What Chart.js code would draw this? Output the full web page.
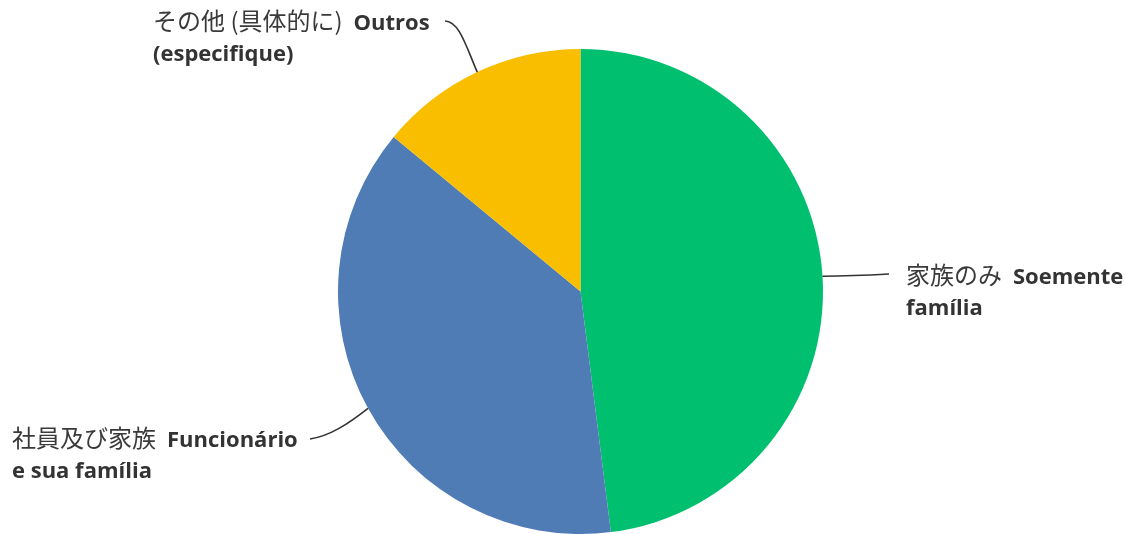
<!DOCTYPE html>
<html>
<head>
<meta charset="utf-8">
<script src="https://cdn.jsdelivr.net/npm/chart.js@4/dist/chart.umd.min.js"></script>
<style>
  html, body { margin: 0; padding: 0; background: #fff; }
  #wrap { width: 1126px; height: 534px; position: relative; }
</style>
</head>
<body>
<div id="wrap"><canvas id="c" width="1126" height="534"></canvas></div>
<script>
// ---- data ----
const categories = ["家族のみ Soemente família", "社員及び家族 Funcionário e sua família", "その他 (具体的に) Outros (especifique)"];
const labelsJa = ["家族のみ", "社員及び家族", "その他 (具体的に)"];
const labelsPtLine1 = ["Soemente", "Funcionário", "Outros"];
const labelsPtLine2 = ["família", "e sua família", "(especifique)"];
const values = [48, 38, 14];
const colors = ["#00BF6F", "#507CB6", "#F9BE00"];

// label layout (pixel positions for text and leader ends)
const labelLayout = [
  { tx: 906, by: 284, end: [889, 274], c1: [850, 276], c2: [870, 275] },
  { tx: 12,  by: 447, end: [310, 439], c1: [348, 424], c2: [330, 436] },
  { tx: 153, by: 30,  end: [445, 21], c1: [466, 46], c2: [459, 21] }
];

const JA_FONT = '400 24px "Noto Sans CJK JP", "Noto Sans", sans-serif';
const PT_FONT = '700 22px "Open Sans", "Noto Sans", sans-serif';
const LINE_GAP = 31;
const WORD_GAP = 11;

const labelPlugin = {
  id: 'outerLabels',
  afterDraw(chart) {
    const ctx = chart.ctx;
    const meta = chart.getDatasetMeta(0);
    ctx.save();
    meta.data.forEach((arc, i) => {
      const p = arc.getProps(['x', 'y', 'startAngle', 'endAngle', 'outerRadius'], true);
      const mid = (p.startAngle + p.endAngle) / 2;
      const sx = p.x + Math.cos(mid) * p.outerRadius;
      const sy = p.y + Math.sin(mid) * p.outerRadius;
      const L = labelLayout[i];
      // leader line
      ctx.beginPath();
      ctx.strokeStyle = '#333';
      ctx.lineWidth = 1.6;
      ctx.moveTo(sx, sy);
      ctx.bezierCurveTo(L.c1[0], L.c1[1], L.c2[0], L.c2[1], L.end[0], L.end[1]);
      ctx.stroke();
      // text
      ctx.textBaseline = 'alphabetic';
      ctx.textAlign = 'left';
      ctx.fillStyle = '#3a3a3a';
      ctx.font = JA_FONT;
      ctx.fillText(labelsJa[i], L.tx, L.by);
      const w = ctx.measureText(labelsJa[i]).width + WORD_GAP;
      ctx.fillStyle = '#333';
      ctx.font = PT_FONT;
      ctx.fillText(labelsPtLine1[i], L.tx + w, L.by);
      ctx.fillText(labelsPtLine2[i], L.tx, L.by + LINE_GAP);
    });
    ctx.restore();
  }
};

new Chart(document.getElementById('c'), {
  type: 'pie',
  data: {
    labels: categories,
    datasets: [{
      data: values,
      backgroundColor: colors,
      borderWidth: 0,
      hoverOffset: 0
    }]
  },
  options: {
    responsive: false,
    animation: false,
    layout: { padding: { left: 338, right: 303, top: 49, bottom: 0 } },
    plugins: {
      legend: { display: false },
      tooltip: { enabled: false },
      title: { display: false }
    }
  },
  plugins: [labelPlugin]
});
</script>
</body>
</html>
